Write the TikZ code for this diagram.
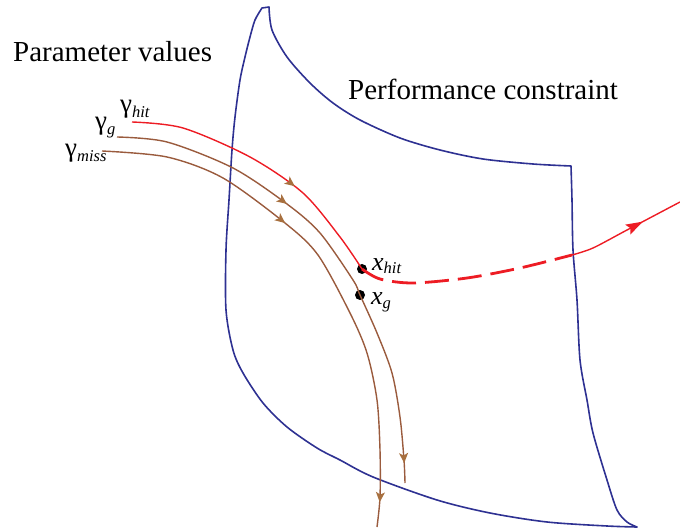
\documentclass[tikz,border=0pt]{standalone}
\usepackage{fontspec}
\setmainfont{Liberation Serif}
\newfontfamily\timesfont{Liberation Serif}
\usetikzlibrary{arrows.meta,decorations.markings}
\definecolor{regionblue}{HTML}{2E3192}
\definecolor{hitred}{HTML}{ED1C24}
\definecolor{pathbrown}{HTML}{9A5B3D}
\definecolor{tipbrown}{HTML}{A8703F}
\newcommand{\lowsub}[2][5pt]{\raisebox{-#1}{\fontsize{16.5}{17}\selectfont\itshape #2}}

\begin{document}
\begin{tikzpicture}[x=1pt, y=-1pt,
  region/.style={draw=regionblue, line width=1.6pt, line join=round, line cap=round},
  traj/.style={draw=pathbrown, line width=1.4pt},
  hit/.style={draw=hitred, line width=1.4pt},
  escape/.style={draw=hitred, line width=2.8pt, dash pattern=on 24pt off 9pt},
  pt/.style={circle, fill=black, inner sep=0pt, minimum size=10pt},
  lab/.style={anchor=base west, inner sep=0pt, font=\timesfont\fontsize{29}{30}\selectfont},
  sym/.style={anchor=base west, inner sep=0pt, font=\timesfont\fontsize{27}{28}\selectfont},
  tipat/.style={postaction={decorate, decoration={markings,
    mark=at position #1 with {\arrow{Stealth[length=10pt, width=9pt, inset=2.5pt, color=tipbrown]}}}}},
  redtipat/.style={postaction={decorate, decoration={markings,
    mark=at position #1 with {\arrow{Stealth[length=17pt, width=11pt, inset=3pt, color=hitred]}}}}}
]
  \useasboundingbox (0,0) rectangle (680,529);

  % texts
  \node[lab] (params) at (13,62) {Parameter values};
  \node[lab] (perf) at (348,100) {Performance constraint};

  % feasible region
  \coordinate (peak) at (269,7);
  \coordinate (corner) at (571,166);
  \coordinate (foot) at (637,527);
  \draw[region] plot[smooth, tension=0.5] coordinates {(foot) (607,526) (547,522) (490,513)
      (437,500) (373,477) (340,460) (317,448) (287,427) (263,403) (243,373) (233,350)
      (226,310) (226,250) (229,200) (232,150) (235,117) (240,80) (245,57) (250,37)
      (255,20) (262,8)} -- (peak)
    -- plot[smooth, tension=0.5] coordinates {(peak) (272,30) (287,57) (310,83) (333,103)
      (360,120) (400,138) (440,150) (483,159) (533,164) (corner)}
    -- plot[smooth, tension=0.5] coordinates {(corner) (572,200) (573,250) (577,300)
      (580,360) (587,400) (593,433) (607,480) (617,510) (627,522) (foot)};

  % points
  \node[pt] (xhit) at (362,269) {};
  \node[pt] (xg) at (360,295) {};
  \node[sym, font=\timesfont\fontsize{26}{26}\selectfont\itshape] (xhitlab) at (372,271) {x\lowsub[3pt]{hit}};
  \node[sym, font=\timesfont\fontsize{26}{26}\selectfont\itshape] (xglab) at (371,305) {x\lowsub[4pt]{g}};

  % trajectories
  \node[sym] (ghitlab) at (120,112.4) {γ\lowsub{hit}};
  \node[sym] (gglab) at (95,130) {γ\lowsub{g}};
  \node[sym] (gmisslab) at (65,157) {γ\lowsub{miss}};
  \coordinate (ghit) at (132,122);
  \coordinate (gg) at (117,137);
  \coordinate (gmiss) at (102,151);

  \draw[hit, tipat=178pt] plot[smooth, tension=0.5] coordinates {(ghit) (183,128)
      (250,157) (303,193) (340,237) (xhit.center)};
  \draw[traj, tipat=186pt, tipat=-20pt] plot[smooth, tension=0.5] coordinates {(gg)
      (167,142) (233,168) (287,204) (320,233) (353,280) (xg.center) (377,333) (392,373)
      (400,417) (404,460) (405,483)};
  \draw[traj, tipat=202pt, tipat=-25pt] plot[smooth, tension=0.5] coordinates {(gmiss)
      (167,157) (223,178) (285,223) (318,255) (350,313) (367,353) (377,400) (380,450)
      (380,497) (377,527)};

  % leaving the region
  \coordinate (exit) at (572,255);
  \coordinate (far) at (680,202);
  \draw[escape] plot[smooth, tension=0.5] coordinates {(xhit.center) (380,279) (413,283)
      (467,278) (520,268) (exit)};
  \draw[hit, redtipat=-42pt] plot[smooth, tension=0.5] coordinates {(exit) (593,248)
      (627,230) (far)};
\end{tikzpicture}
\end{document}
